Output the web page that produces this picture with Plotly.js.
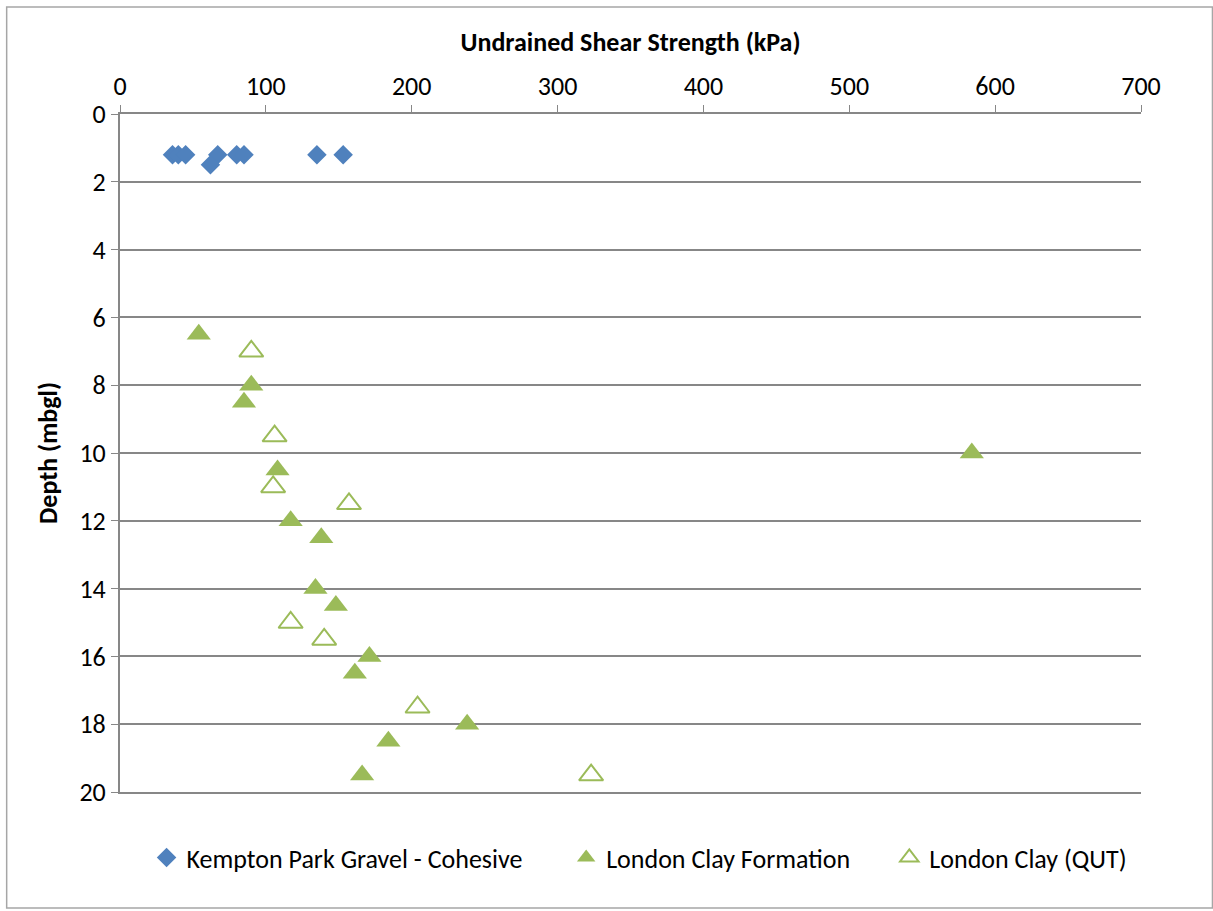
<!DOCTYPE html>
<html>
<head>
<meta charset="utf-8">
<script src="https://cdn.plot.ly/plotly-3.0.1.min.js"></script>
<style>
  html, body { margin: 0; padding: 0; background: #fff; }
  #chart { width: 1213px; height: 911px; }
</style>
</head>
<body>
<div id="chart"></div>
<script>
// Undrained shear strength (kPa) against depth (m below ground level)
const kemptonStrength = [36, 40, 45, 67, 80, 85, 135, 153, 62];
const kemptonDepth    = [1.2, 1.2, 1.2, 1.2, 1.2, 1.2, 1.2, 1.2, 1.5];

const londonClayStrength = [54, 90, 85, 108, 117, 138, 134, 148, 171, 161, 238, 184, 166, 584];
const londonClayDepth    = [6.5, 8, 8.5, 10.5, 12, 12.5, 14, 14.5, 16, 16.5, 18, 18.5, 19.5, 10];

const qutStrength = [90, 106, 105, 157, 117, 140, 204, 323];
const qutDepth    = [7, 9.5, 11, 11.5, 15, 15.5, 17.5, 19.5];

const seriesNames = ['Kempton Park Gravel - Cohesive', 'London Clay Formation', 'London Clay (QUT)'];

const FONT = 'Carlito, Calibri, Lato, "Liberation Sans", sans-serif';
const BLUE = '#4F81BD';
const GREEN = '#9BBB59';

const traces = [
  {
    x: kemptonStrength, y: kemptonDepth, name: seriesNames[0],
    type: 'scatter', mode: 'markers', legend: 'legend',
    marker: { symbol: 'diamond', size: 15, color: BLUE }
  },
  {
    x: londonClayStrength, y: londonClayDepth, name: seriesNames[1],
    type: 'scatter', mode: 'markers', legend: 'legend2',
    marker: { symbol: 'triangle-up', size: 21, color: GREEN }
  },
  {
    x: qutStrength, y: qutDepth, name: seriesNames[2],
    type: 'scatter', mode: 'markers', legend: 'legend3',
    marker: { symbol: 'triangle-up-open', size: 21, color: GREEN, line: { color: GREEN, width: 2 } }
  }
];

// one legend box per series so the three entries sit spread across the bottom
function legendAt(x) {
  return {
    orientation: 'h', x: x, xanchor: 'left', y: -0.062, yanchor: 'top',
    font: { family: FONT, size: 26, color: '#000' },
    itemwidth: 30, bgcolor: 'rgba(0,0,0,0)'
  };
}

const layout = {
  width: 1213, height: 911,
  margin: { l: 120, r: 72, t: 114, b: 119 },
  paper_bgcolor: '#fff', plot_bgcolor: '#fff',
  font: { family: FONT, size: 26, color: '#000' },
  showlegend: true,
  legend: legendAt(0.026),
  legend2: legendAt(0.437),
  legend3: legendAt(0.7535),
  xaxis: {
    side: 'top', range: [0, 700], dtick: 100, tick0: 0,
    showgrid: false, zeroline: false,
    showline: true, linecolor: '#878787', linewidth: 2, mirror: true,
    ticks: 'outside', ticklen: 7, tickcolor: '#878787', tickwidth: 1,
    tickfont: { family: FONT, size: 26, color: '#000' },
    title: { text: '<b>Undrained Shear Strength (kPa)</b>', font: { family: FONT, size: 26, color: '#000' }, standoff: 10 }
  },
  yaxis: {
    range: [20, 0], dtick: 2, tick0: 0,
    showgrid: true, gridcolor: '#878787', gridwidth: 2, zeroline: false,
    showline: true, linecolor: '#878787', linewidth: 2,
    ticks: 'outside', ticklen: 7, tickcolor: '#878787', tickwidth: 1,
    tickfont: { family: FONT, size: 26, color: '#000' },
    title: { text: '<b>Depth (mbgl)</b>', font: { family: FONT, size: 26, color: '#000' }, standoff: 14 }
  },
  shapes: [
    {
      type: 'rect', xref: 'paper', yref: 'paper',
      x0: -0.111, x1: 1.07, y0: -0.171, y1: 1.158,
      line: { color: '#A6A6A6', width: 1.5 }, fillcolor: 'rgba(0,0,0,0)', layer: 'below'
    }
  ]
};

Plotly.newPlot('chart', traces, layout, { displayModeBar: false, staticPlot: true });
</script>
</body>
</html>
